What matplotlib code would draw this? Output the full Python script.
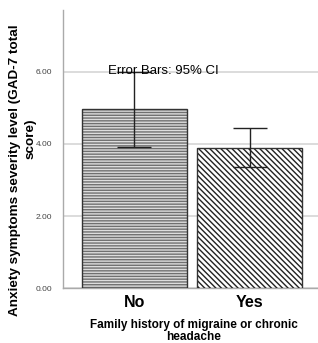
"""SPSS-style bar chart with 95% CI error bars."""
import matplotlib
matplotlib.use("Agg")
import matplotlib.pyplot as plt
import numpy as np

plt.rcParams['font.family'] = ['Liberation Sans', 'DejaVu Sans']
plt.rcParams['hatch.linewidth'] = 1.0

categories = ["No", "Yes"]
means = [4.97, 3.89]
ci_low = [3.92, 3.36]
ci_high = [6.01, 4.44]
yticks = [0, 2, 4, 6]

fig = plt.figure(figsize=(3.18, 3.43), dpi=100)
ax = fig.add_axes([0.198, 0.160, 0.802, 0.811])

x = np.arange(len(categories))
faces = ["#dddddd", "white"]
hatch_cols = ["#707070", "#222222"]
hatches = ["------", "\\" * 6]
for i in range(len(categories)):
    # hatch layer, then outline on top
    ax.bar(x[i], means[i], width=0.909, color=faces[i], edgecolor=hatch_cols[i],
           hatch=hatches[i], linewidth=0, zorder=3)
    ax.bar(x[i], means[i], width=0.909, fill=False, edgecolor="#333333",
           linewidth=1.0, zorder=3)

err = [np.array(means) - np.array(ci_low), np.array(ci_high) - np.array(means)]
ax.errorbar(x, means, yerr=err, fmt="none", ecolor="#222222", elinewidth=1.0,
            capsize=12, capthick=1.0, zorder=4)

ax.set_xlim(-0.619, 1.589)
ax.set_ylim(0, 7.72)
ax.set_yticks(yticks)
ax.set_yticklabels(["%.2f" % v for v in yticks], fontsize=6, color="#444444")
ax.set_xticks(x)
ax.set_xticklabels(categories, fontsize=11.5, fontweight="bold")
ax.tick_params(axis="x", length=0, pad=5)
ax.tick_params(axis="y", length=0, pad=8)
ax.yaxis.grid(True, color="#d9d9d9", lw=1.3, zorder=0)
ax.set_axisbelow(True)
for s in ["top", "right"]:
    ax.spines[s].set_visible(False)
ax.spines["left"].set_color("#aaaaaa")
ax.spines["bottom"].set_color("#aaaaaa")
ax.spines["left"].set_linewidth(1.0)
ax.spines["bottom"].set_linewidth(1.0)

ax.text(0.25, 6.03, "Error Bars: 95% CI", fontsize=9.5, ha="center", va="center", zorder=5)

fig.text(0.047, 0.505, "Anxiety symptoms severity level (GAD-7 total", rotation=90,
         ha="center", va="center", fontsize=9.7, fontweight="bold")
fig.text(0.095, 0.595, "score)", rotation=90, ha="center", va="center",
         fontsize=9.7, fontweight="bold")

fig.text(0.61, 0.035, "Family history of migraine or chronic\nheadache", ha="center",
         va="center", fontsize=8.5, fontweight="bold", linespacing=1.0)

fig.savefig("out.png", dpi=100)
